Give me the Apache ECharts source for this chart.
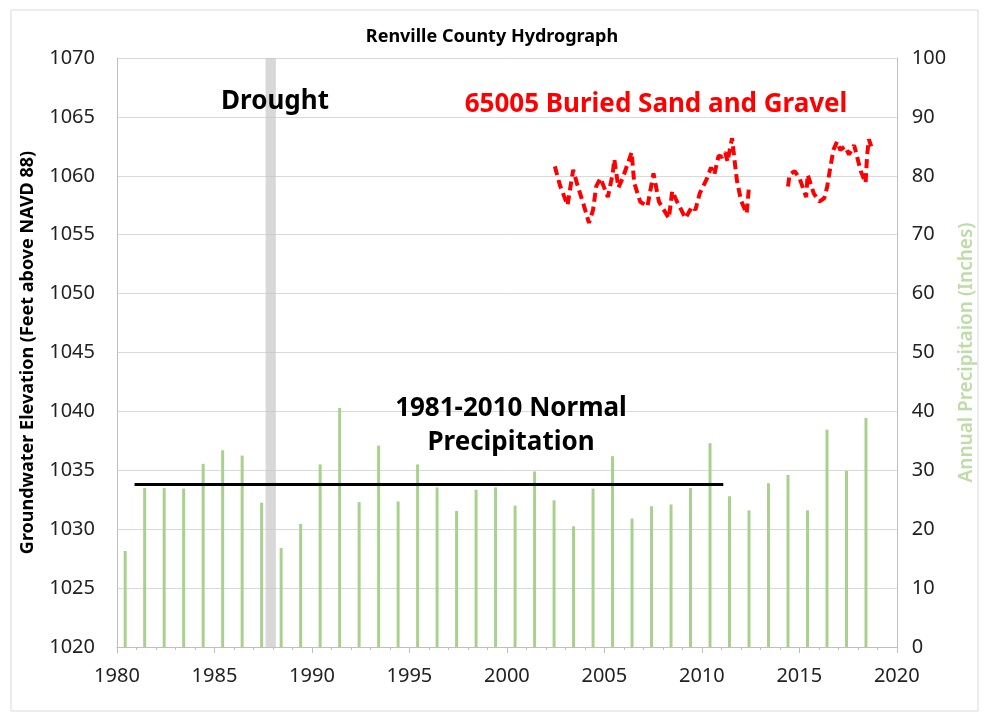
<!DOCTYPE html>
<html>
<head>
<meta charset="utf-8">
<script src="https://cdn.jsdelivr.net/npm/echarts@6/dist/echarts.min.js"></script>
<style>
  html, body { margin: 0; padding: 0; background: #fff; }
  #chart { width: 984px; height: 717px; }
</style>
</head>
<body>
<div id="chart"></div>
<script>
// annual precipitation (inches), one bar per year
const precipYears = [1980, 1981, 1982, 1983, 1984, 1985, 1986, 1987, 1988, 1989,
  1990, 1991, 1992, 1993, 1994, 1995, 1996, 1997, 1998, 1999,
  2000, 2001, 2002, 2003, 2004, 2005, 2006, 2007, 2008, 2009,
  2010, 2011, 2012, 2013, 2014, 2015, 2016, 2017, 2018]
const precipInches = [16.3, 27.0, 27.0, 26.9, 31.1, 33.4, 32.5, 24.5, 16.8, 20.9,
  31.0, 40.6, 24.6, 34.2, 24.7, 31.0, 27.1, 23.1, 26.7, 27.1,
  24.0, 29.8, 24.9, 20.5, 26.9, 32.4, 21.8, 23.9, 24.2, 27.0,
  34.6, 25.6, 23.2, 27.8, 29.2, 23.2, 36.9, 29.9, 38.9]
const barOffset = 0.42 // bars sit part way through the year

// well 65005 groundwater elevations (ft), two runs with a gap
const wellDates1 = [2002.46, 2002.72, 2003.11, 2003.40, 2003.62, 2003.91, 2004.21, 2004.42, 2004.58, 2004.80,
  2005.18, 2005.43, 2005.51, 2005.72, 2005.94, 2006.40, 2006.53, 2006.84, 2007.21, 2007.52,
  2007.80, 2008.31, 2008.48, 2008.70, 2009.16, 2009.50, 2009.67, 2009.89, 2010.27, 2010.47,
  2010.64, 2010.86, 2011.05, 2011.20, 2011.32, 2011.55, 2011.70, 2011.80, 2012.01, 2012.30, 2012.42]
const wellLevels1 = [1060.8, 1059.2, 1057.5, 1060.5, 1059.2, 1057.7, 1056.0, 1057.1, 1059.1, 1059.8,
  1058.2, 1060.2, 1061.4, 1059.0, 1059.8, 1062.0, 1059.4, 1057.8, 1057.4, 1060.2,
  1057.8, 1056.4, 1058.7, 1057.9, 1056.4, 1057.4, 1057.1, 1058.5, 1059.8, 1060.7,
  1060.1, 1061.7, 1061.6, 1062.0, 1061.2, 1063.2, 1061.0, 1059.6, 1057.9, 1056.8, 1059.1]
const wellDates2 = [2014.42, 2014.50, 2014.76, 2015.01, 2015.35, 2015.43, 2015.74, 2016.03, 2016.28, 2016.42,
  2016.59, 2016.75, 2016.93, 2017.10, 2017.34, 2017.55, 2017.81, 2017.89, 2018.15, 2018.40,
  2018.48, 2018.57, 2018.69]
const wellLevels2 = [1059.1, 1060.1, 1060.4, 1059.8, 1058.2, 1060.1, 1058.5, 1057.8, 1058.1, 1059.0,
  1060.7, 1062.2, 1062.9, 1062.2, 1062.5, 1061.8, 1062.6, 1062.1, 1060.4, 1059.4,
  1061.8, 1063.1, 1062.5]

// 1981-2010 normal and drought period
const normalPrecip = 27.6
const normalStart = 1980.9
const normalEnd = 2011.1
const droughtStart = 1987.62
const droughtEnd = 1988.15

const xTicks = [1980, 2020, 5]
const leftTicks = [1020, 1070, 5]
const rightTicks = [0, 100, 10]

const font = '"Noto Sans", "Open Sans", sans-serif'
const chart = echarts.init(document.getElementById('chart'))

const zip = (xs, ys, dx = 0) => xs.map((x, i) => [x + dx, ys[i]])
const plain = (v) => String(v)

const wellLine = {
  type: 'line',
  yAxisIndex: 0,
  showSymbol: false,
  symbol: 'none',
  z: 5,
  lineStyle: { color: '#ff0000', width: 4, type: [9, 5] },
}

chart.setOption({
  animation: false,
  backgroundColor: '#fff',
  textStyle: { fontFamily: font },
  title: {
    text: 'Renville County Hydrograph',
    left: 'center',
    top: 23,
    textStyle: { fontFamily: font, fontSize: 18, fontWeight: 'bold', color: '#000' },
  },
  grid: { left: 117, right: 80, top: 58, bottom: 70 },
  xAxis: {
    type: 'value',
    min: xTicks[0],
    max: xTicks[1],
    interval: xTicks[2],
    axisLine: { lineStyle: { color: '#bfbfbf' } },
    axisTick: { show: true, length: 6, lineStyle: { color: '#bfbfbf' } },
    minorTick: { show: true, splitNumber: 5, length: 3, lineStyle: { color: '#bfbfbf' } },
    splitLine: { show: false },
    axisLabel: { color: '#222', fontSize: 20, margin: 19, fontFamily: font, formatter: plain },
  },
  yAxis: [
    {
      type: 'value',
      min: leftTicks[0],
      max: leftTicks[1],
      interval: leftTicks[2],
      name: 'Groundwater Elevation (Feet above NAVD 88)',
      nameLocation: 'middle',
      nameRotate: 90,
      nameGap: 80,
      nameTextStyle: { fontFamily: font, fontSize: 18, fontWeight: 'bold', color: '#000' },
      axisLine: { show: true, lineStyle: { color: '#bfbfbf' } },
      axisTick: { show: false },
      splitLine: { lineStyle: { color: '#d9d9d9' } },
      axisLabel: { color: '#222', fontSize: 20, margin: 22, fontFamily: font, formatter: plain },
    },
    {
      type: 'value',
      min: rightTicks[0],
      max: rightTicks[1],
      interval: rightTicks[2],
      position: 'right',
      name: 'Annual Precipitaion (Inches)',
      nameLocation: 'middle',
      nameRotate: 90,
      nameGap: 60,
      nameTextStyle: { fontFamily: font, fontSize: 19, fontWeight: 600, color: '#bfdca8' },
      axisLine: { show: true, lineStyle: { color: '#bfbfbf' } },
      axisTick: { show: false },
      splitLine: { show: false },
      axisLabel: { color: '#222', fontSize: 20, margin: 15, fontFamily: font, formatter: plain },
    },
  ],
  series: [
    {
      type: 'bar',
      yAxisIndex: 1,
      barWidth: 3,
      itemStyle: { color: '#a9d18e' },
      data: zip(precipYears, precipInches, barOffset),
      z: 3,
      markArea: {
        silent: true,
        itemStyle: { color: 'rgba(195,195,195,0.65)' },
        data: [[{ xAxis: droughtStart }, { xAxis: droughtEnd }]],
      },
      markLine: {
        silent: true,
        symbol: ['none', 'none'],
        label: { show: false },
        lineStyle: { color: '#000', width: 3, type: 'solid' },
        data: [[{ coord: [normalStart, normalPrecip] }, { coord: [normalEnd, normalPrecip] }]],
      },
    },
    { ...wellLine, data: zip(wellDates1, wellLevels1) },
    { ...wellLine, data: zip(wellDates2, wellLevels2) },
  ],
  graphic: [
    {
      type: 'rect',
      shape: { x: 11, y: 10, width: 967, height: 701 },
      style: { fill: 'none', stroke: '#d9d9d9', lineWidth: 1 },
      silent: true,
      z: -10,
    },
    {
      type: 'text',
      style: { x: 275, y: 102, text: 'Drought', textAlign: 'center', textVerticalAlign: 'middle',
        font: 'bold 26px ' + font, fill: '#000' },
      z: 10,
    },
    {
      type: 'text',
      style: { x: 656, y: 105, text: '65005 Buried Sand and Gravel', textAlign: 'center', textVerticalAlign: 'middle',
        font: 'bold 26px ' + font, fill: '#ff0000' },
      z: 10,
    },
    {
      type: 'text',
      style: { x: 511, y: 409, text: '1981-2010 Normal', textAlign: 'center', textVerticalAlign: 'middle',
        font: 'bold 26px ' + font, fill: '#000' },
      z: 10,
    },
    {
      type: 'text',
      style: { x: 511, y: 443, text: 'Precipitation', textAlign: 'center', textVerticalAlign: 'middle',
        font: 'bold 26px ' + font, fill: '#000' },
      z: 10,
    },
  ],
})

window.addEventListener('resize', () => chart.resize())
</script>
</body>
</html>
